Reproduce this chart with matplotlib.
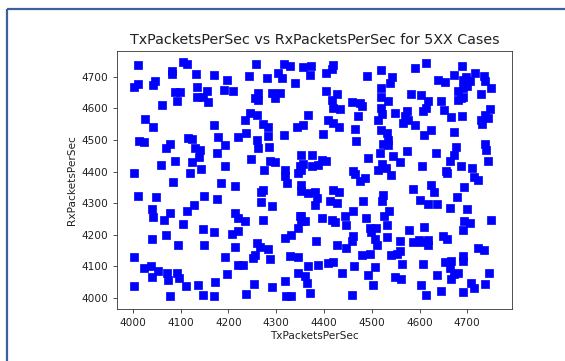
import matplotlib
matplotlib.use("Agg")
import matplotlib.pyplot as plt
from matplotlib.lines import Line2D

# TxPacketsPerSec / RxPacketsPerSec pairs
tx_values = [
    4010, 4105, 4114, 4083, 4082, 4133, 4003, 4010, 4042, 4047, 4089, 4099,
    4135, 4135, 4148, 4155, 4092, 4061, 4026, 4043, 4014, 4023, 4115, 4124,
    4077, 4070, 4130, 4141, 4139, 4089, 4059, 4124, 4142, 4002, 4120,
    4258, 4316, 4329, 4169, 4243, 4280, 4304, 4313, 4197, 4339, 4190, 4210,
    4263, 4256, 4263, 4291, 4298, 4308, 4158, 4245, 4259, 4235, 4169, 4273,
    4284, 4343, 4357, 4179, 4193, 4221, 4236, 4261, 4263, 4284, 4317, 4286,
    4176, 4247, 4287, 4298, 4193, 4275, 4318, 4350,
    4357, 4374, 4371, 4419, 4416, 4405, 4519, 4491, 4543, 4538, 4404, 4428,
    4519, 4520, 4534, 4416, 4419, 4433, 4458, 4476, 4479, 4520, 4522, 4548,
    4367, 4471, 4409, 4419, 4432, 4513, 4398, 4465, 4520, 4531, 4534, 4467,
    4524, 4534, 4353, 4376, 4395, 4405, 4388, 4376, 4357, 4353, 4492, 4517,
    4545, 4522, 4529, 4461,
    4614, 4590, 4689, 4639, 4654, 4673, 4691, 4698, 4705, 4717, 4735, 4736,
    4750, 4680, 4691, 4700, 4687, 4680, 4691, 4728, 4582, 4604, 4618, 4614,
    4607, 4646, 4651, 4666, 4689, 4748, 4736, 4729, 4743, 4730, 4573, 4569,
    4576, 4565, 4590, 4625, 4609, 4672, 4736, 4740, 4677, 4672, 4663, 4635,
    4573, 4559, 4743, 4605, 4687, 4710, 4656,
    4085, 4012, 4049, 4150, 4040, 4042, 4078, 4066, 4113, 4128, 4106, 4147,
    4040, 4069, 4094, 4150, 4002, 4023, 4038, 4040, 4052, 4071, 4073, 4092,
    4096, 4002, 4112, 4137, 4078, 4148,
    4318, 4322, 4346, 4185, 4214, 4273, 4268, 4353, 4176, 4268, 4291, 4214,
    4221, 4235, 4273, 4350, 4353, 4346, 4332, 4318, 4169, 4207, 4220, 4259,
    4266, 4284, 4214, 4193, 4252, 4256, 4287, 4329, 4346, 4221, 4231, 4197,
    4346, 4172, 4254, 4318, 4291, 4169, 4237, 4331, 4320,
    4465, 4475, 4485, 4513, 4541, 4353, 4367, 4381, 4385, 4381, 4419, 4432,
    4412, 4428, 4482, 4524, 4522, 4536, 4525, 4461, 4353, 4360, 4395, 4416,
    4423, 4444, 4447, 4488, 4496, 4510, 4499, 4532, 4383, 4460, 4458, 4428,
    4447, 4506, 4511, 4532, 4479, 4496, 4541, 4552, 4409, 4418, 4367, 4388,
    4463, 4506, 4437, 4492, 4548, 4360, 4364, 4502, 4371, 4458,
    4658, 4714, 4723, 4586, 4625, 4630, 4694, 4600, 4618, 4637, 4679, 4663,
    4700, 4749, 4694, 4705, 4691, 4609, 4579, 4559, 4586, 4598, 4618, 4618,
    4604, 4649, 4658, 4722, 4735, 4559, 4691, 4691, 4563, 4607, 4653, 4666,
    4663, 4673, 4680, 4746, 4637, 4666, 4561, 4708, 4714, 4736, 4604, 4646,
    4691, 4614,
]
rx_values = [
    4738, 4746, 4742, 4719, 4709, 4709, 4669, 4677, 4675, 4686, 4652, 4651,
    4667, 4638, 4638, 4654, 4624, 4610, 4567, 4540, 4496, 4494, 4506, 4503,
    4487, 4475, 4475, 4469, 4446, 4435, 4420, 4430, 4409, 4396, 4396,
    4741, 4741, 4736, 4705, 4702, 4696, 4712, 4696, 4691, 4680, 4659, 4654,
    4649, 4633, 4628, 4649, 4633, 4649, 4620, 4586, 4580, 4564, 4547, 4551,
    4540, 4540, 4547, 4509, 4485, 4509, 4522, 4501, 4475, 4512, 4515, 4477,
    4459, 4441, 4435, 4430, 4419, 4406, 4406, 4417,
    4730, 4736, 4707, 4738, 4726, 4714, 4723, 4702, 4699, 4680, 4654, 4646,
    4665, 4638, 4623, 4628, 4601, 4599, 4620, 4619, 4607, 4601, 4582, 4586,
    4580, 4577, 4564, 4554, 4540, 4564, 4519, 4536, 4533, 4522, 4501, 4498,
    4487, 4485, 4454, 4452, 4438, 4433, 4422, 4417, 4424, 4406, 4443, 4459,
    4448, 4424, 4411, 4401,
    4744, 4728, 4736, 4691, 4684, 4707, 4691, 4699, 4686, 4712, 4702, 4686,
    4665, 4654, 4665, 4670, 4633, 4628, 4638, 4646, 4646, 4642, 4624, 4601,
    4591, 4624, 4596, 4572, 4577, 4598, 4580, 4564, 4570, 4551, 4591, 4575,
    4564, 4554, 4547, 4533, 4515, 4525, 4487, 4469, 4477, 4454, 4435, 4459,
    4466, 4430, 4435, 4419, 4419, 4411, 4401,
    4367, 4322, 4319, 4322, 4283, 4255, 4269, 4248, 4274, 4293, 4234, 4219,
    4187, 4198, 4169, 4167, 4130, 4095, 4100, 4066, 4085, 4079, 4058, 4079,
    4063, 4039, 4039, 4042, 4005, 4009,
    4385, 4364, 4396, 4364, 4354, 4343, 4335, 4338, 4314, 4304, 4290, 4269,
    4253, 4245, 4248, 4259, 4243, 4222, 4200, 4190, 4209, 4203, 4213, 4174,
    4160, 4156, 4160, 4129, 4127, 4135, 4124, 4132, 4129, 4103, 4105, 4076,
    4079, 4050, 4045, 4053, 4034, 4007, 4013, 4005, 4005,
    4392, 4371, 4380, 4406, 4388, 4359, 4332, 4335, 4317, 4293, 4343, 4335,
    4306, 4301, 4306, 4327, 4308, 4274, 4259, 4276, 4259, 4243, 4253, 4248,
    4241, 4259, 4232, 4253, 4222, 4222, 4209, 4232, 4181, 4195, 4179, 4167,
    4158, 4187, 4169, 4192, 4135, 4139, 4135, 4139, 4111, 4114, 4100, 4103,
    4100, 4097, 4079, 4074, 4066, 4069, 4047, 4042, 4016, 4010,
    4396, 4382, 4374, 4346, 4357, 4335, 4350, 4311, 4298, 4298, 4319, 4285,
    4283, 4248, 4243, 4237, 4216, 4224, 4214, 4181, 4177, 4185, 4185, 4167,
    4177, 4195, 4188, 4158, 4153, 4148, 4132, 4118, 4109, 4109, 4113, 4118,
    4095, 4076, 4079, 4079, 4072, 4060, 4060, 4047, 4032, 4045, 4042, 4023,
    4019, 4009,
]

x_ticks = [4000, 4100, 4200, 4300, 4400, 4500, 4600, 4700]
y_ticks = [4000, 4100, 4200, 4300, 4400, 4500, 4600, 4700]

fig = plt.figure(figsize=(5.65, 3.61), dpi=100)
ax = fig.add_axes([0.2062, 0.1432, 0.7004, 0.7163])

ax.scatter(tx_values, rx_values, marker="s", c="blue", s=32, linewidths=0.5, edgecolors="blue")

ax.set_xlim(3966, 4794)
ax.set_ylim(3964, 4783)
ax.set_xticks(x_ticks)
ax.set_yticks(y_ticks)
ax.tick_params(labelsize=7.6, length=2.7, width=0.6, colors="#333333", labelcolor="#222222")
for spine in ax.spines.values():
    spine.set_linewidth(0.6)
    spine.set_color("#333333")

ax.set_title("TxPacketsPerSec vs RxPacketsPerSec for 5XX Cases", fontsize=10.3, pad=4.8, color="#222222")
ax.set_xlabel("TxPacketsPerSec", fontsize=7.6, labelpad=2.5, color="#222222")
ax.set_ylabel("RxPacketsPerSec", fontsize=7.6, labelpad=3, color="#222222")

# notebook cell border on the left and top edges
border = "#3f5f9f"
fig.add_artist(Line2D([6.5 / 565, 6.5 / 565], [0, 1 - 8.5 / 361], color=border, lw=1.6,
                      solid_capstyle="butt"))
fig.add_artist(Line2D([6.5 / 565, 1], [1 - 8.5 / 361, 1 - 8.5 / 361], color=border, lw=1.6,
                      solid_capstyle="butt"))

fig.savefig("out.png", dpi=100)
